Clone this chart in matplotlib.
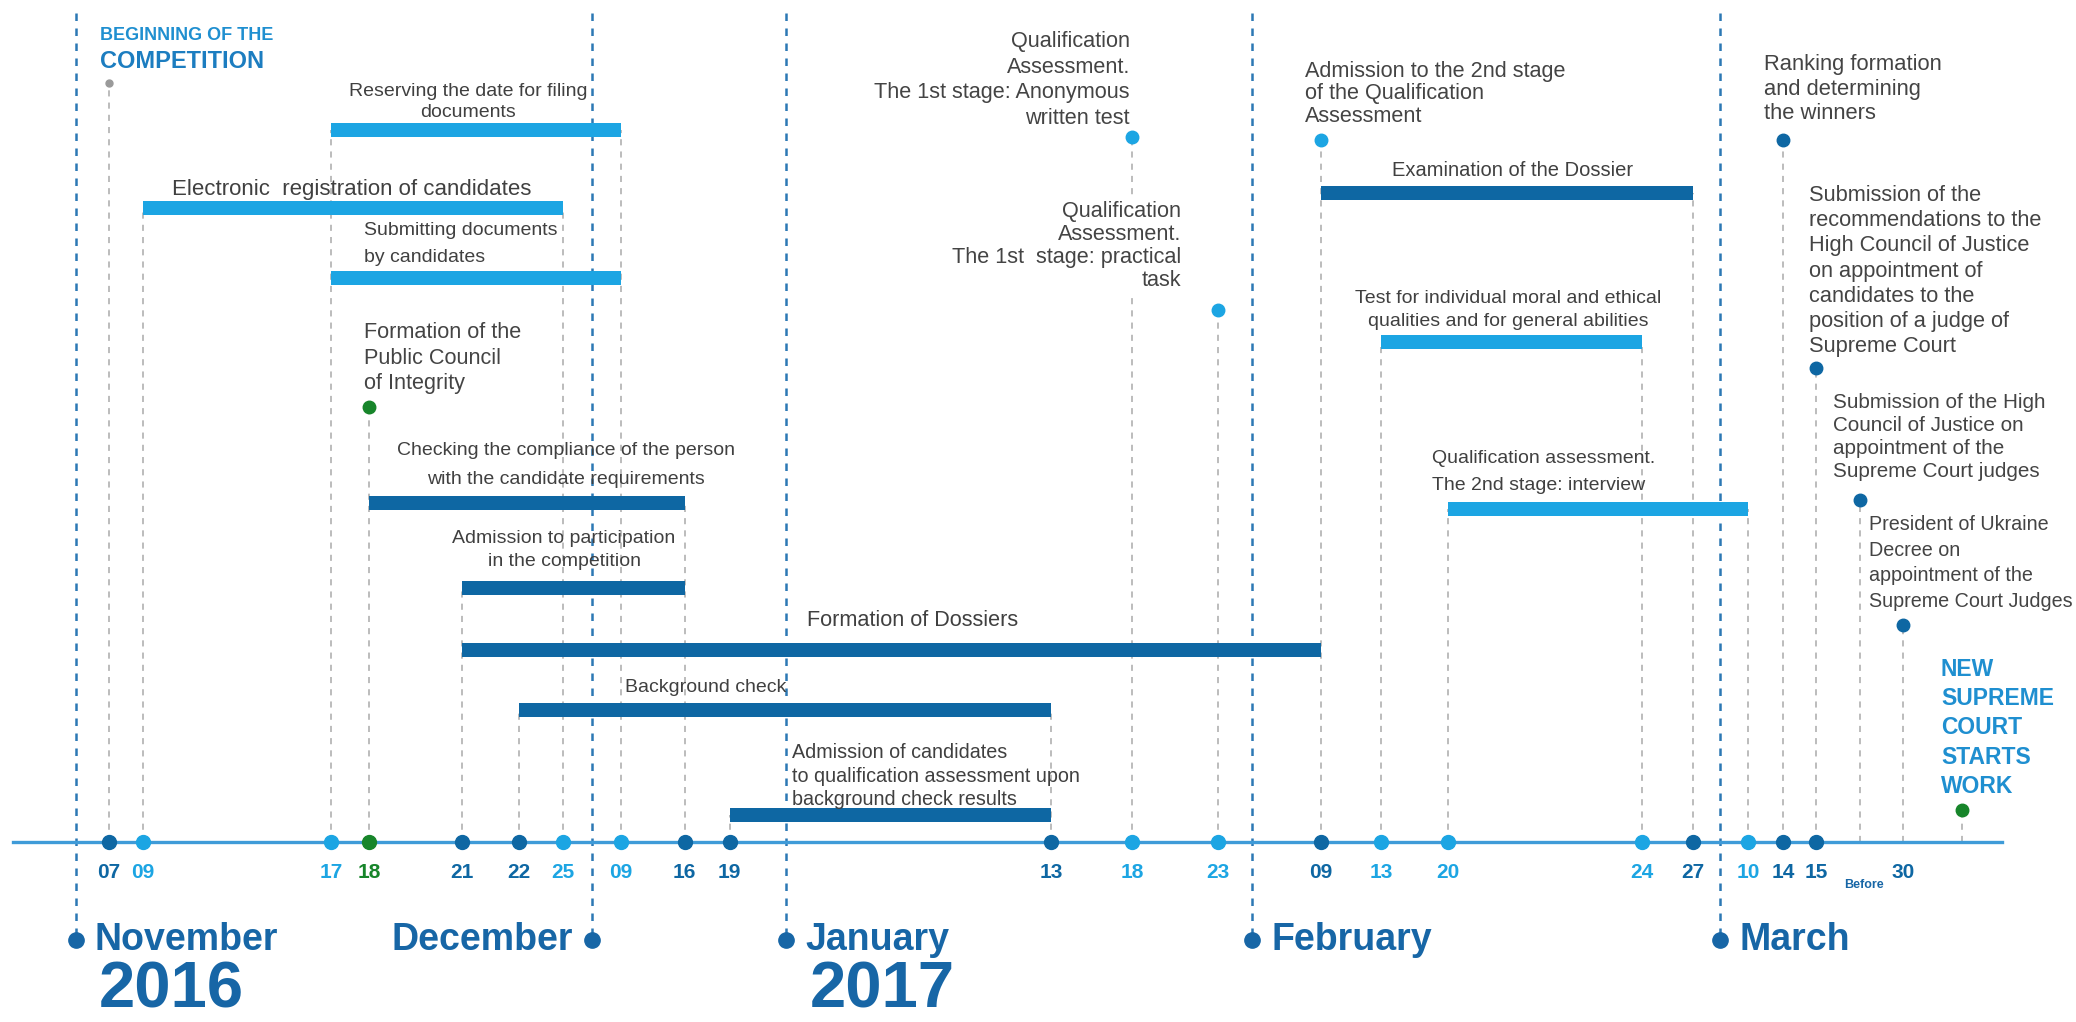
import numpy as np
import matplotlib.pyplot as plt
import matplotlib.transforms as mtransforms
from matplotlib import font_manager
from datetime import date

# ---------------- data ----------------
tick_dates = ['2016-11-07', '2016-11-09', '2016-11-17', '2016-11-18', '2016-11-21', '2016-11-22',
              '2016-11-25', '2016-12-09', '2016-12-16', '2016-12-19', '2017-01-13', '2017-01-18',
              '2017-01-23', '2017-02-09', '2017-02-13', '2017-02-20', '2017-02-24', '2017-02-27',
              '2017-03-10', '2017-03-14', '2017-03-15', '2017-03-30']
tick_labels = ['07', '09', '17', '18', '21', '22', '25', '09', '16', '19', '13', '18',
               '23', '09', '13', '20', '24', '27', '10', '14', '15', '30']
tick_tone = ['dark', 'light', 'light', 'green', 'dark', 'dark', 'light', 'light', 'dark', 'dark',
             'dark', 'light', 'light', 'dark', 'light', 'light', 'light', 'dark', 'light', 'dark',
             'dark', 'none']

month_names = ['November', 'December', 'January', 'February', 'March']
month_dates = ['2016-11-01', '2016-12-01', '2017-01-01', '2017-02-01', '2017-03-01']
years = ['2016', '2017']

bar_labels = ['Reserving the date for filing\ndocuments',
              'Electronic  registration of candidates',
              'Submitting documents\nby candidates',
              'Checking the compliance of the person\nwith the candidate requirements',
              'Admission to participation\nin the competition',
              'Formation of Dossiers',
              'Background check',
              'Admission of candidates\nto qualification assessment upon\nbackground check results',
              'Examination of the Dossier',
              'Test for individual moral and ethical\nqualities and for general abilities',
              'Qualification assessment.\nThe 2nd stage: interview']
bar_start = ['2016-11-17', '2016-11-09', '2016-11-17', '2016-11-18', '2016-11-21', '2016-11-21',
             '2016-11-22', '2016-12-19', '2017-02-09', '2017-02-13', '2017-02-20']
bar_end = ['2016-12-09', '2016-11-25', '2016-12-09', '2016-12-16', '2016-12-16', '2017-02-09',
           '2017-01-13', '2017-01-13', '2017-02-27', '2017-02-24', '2017-03-10']
bar_tone = ['light', 'light', 'light', 'dark', 'dark', 'dark', 'dark', 'dark', 'dark', 'light', 'light']

event_labels = ['BEGINNING OF THE\nCOMPETITION',
                'Formation of the\nPublic Council\nof Integrity',
                'Qualification\nAssessment.\nThe 1st stage: Anonymous\nwritten test',
                'Qualification\nAssessment.\nThe 1st  stage: practical\ntask',
                'Admission to the 2nd stage\nof the Qualification\nAssessment',
                'Ranking formation\nand determining\nthe winners',
                'Submission of the\nrecommendations to the\nHigh Council of Justice\non appointment of\n'
                'candidates to the\nposition of a judge of\nSupreme Court',
                'Submission of the High\nCouncil of Justice on\nappointment of the\nSupreme Court judges',
                'President of Ukraine\nDecree on\nappointment of the\nSupreme Court Judges',
                'NEW\nSUPREME\nCOURT\nSTARTS\nWORK']
event_dates = ['2016-11-07', '2016-11-18', '2017-01-18', '2017-01-23', '2017-02-09',
               '2017-03-14', '2017-03-15', '2017-03-22', '2017-03-30', '2017-04-09']
event_tone = ['grey', 'green', 'light', 'light', 'light', 'dark', 'dark', 'dark', 'dark', 'green']

# ---------------- layout ----------------
W, H = 2076, 1022
AXIS_Y = 842
colors = {'dark': '#0e67a3', 'light': '#1ca5e3', 'green': '#17852a', 'grey': '#9a9a9a', 'none': '#0e67a3'}
TEXT = '#444444'
BLUE = '#1f8fd0'
MONTH = '#1766a6'

# schematic (non-linear) timeline: day number -> pixel column
anchor_days = [-24, -11, 0, 6, 8, 16, 17, 20, 21, 24, 30, 38, 45, 48, 61, 73, 78, 83, 92, 100,
               104, 111, 115, 118, 120, 129, 133, 134, 141, 149, 159, 166, 180]
anchor_px = [0, 13, 75.5, 108.6, 143, 331, 369, 462, 519, 563, 592, 621, 684.5, 729.5, 786, 1051,
             1132, 1218, 1252, 1321, 1381, 1448, 1642, 1693, 1720, 1748, 1783, 1816, 1860, 1903,
             1962, 2002, 2076]

bar_rows = [130, 208, 278, 503, 588, 650, 710, 815, 193, 342, 509]
bar_text_xy = [(468, 102), (352, 190), (364, 244), (566, 465), (564, 550), (913, 620),
               (706, 688), (792, 776), (1513, 170), (1508, 310), (1432, 472)]
bar_text_ha = ['center', 'center', 'left', 'center', 'center', 'center',
               'center', 'left', 'center', 'center', 'left']
bar_text_size = [14, 16, 14, 14, 14, 15.6, 14, 14.2, 14.5, 14, 14]
bar_text_step = [23, 24, 28, 30, 25, 24, 24, 22.5, 24, 25, 29]

event_rows = [83, 407, 137, 310, 140, 140, 368, 500, 625, 810]
event_text_xy = [(100, 48), (364, 358), (1130, 80), (1181, 246), (1305, 94), (1764, 89),
                 (1809, 271), (1833, 437), (1869, 563), (1941, 728)]
event_text_ha = ['left', 'left', 'right', 'right', 'left', 'left', 'left', 'left', 'left', 'left']
event_text_size = [13, 15.6, 15.6, 15.6, 15.6, 15.8, 15.7, 14.9, 14.2, 16.5]
event_text_step = [27, 24.5, 24.6, 21.7, 21.5, 24, 24.2, 23.3, 24.3, 26.7]

installed = {f.name for f in font_manager.fontManager.ttflist}
NARROW = ['Liberation Sans Narrow', 'Liberation Sans'] if 'Liberation Sans Narrow' in installed \
    else ['Liberation Sans']
REGULAR = ['Liberation Sans', 'DejaVu Sans']


def day(s):
    return (date.fromisoformat(s) - date(2016, 11, 1)).days


def spacing(step, pt):
    # matplotlib baseline step ~ em * (0.21 + 0.716 * linespacing)
    em = pt * 100 / 72
    return (step / em - 0.21) / 0.716


fig = plt.figure(figsize=(W / 100, H / 100), dpi=100)
ax = fig.add_axes([0, 0, 1, 1])
ax.set_xscale('function', functions=(lambda d: np.interp(d, anchor_days, anchor_px),
                                      lambda p: np.interp(p, anchor_px, anchor_days)))
ax.set_xlim(anchor_days[0], anchor_days[-1])
ax.set_ylim(H, 0)
ax.axis('off')

# pixel transform for text (y down)
P = mtransforms.Affine2D().scale(1 / W, -1 / H).translate(0, 1) + fig.transFigure

# vertical dashed guides: from the axis up to the highest mark on that date
tops = {}
for s, e, r in zip(bar_start, bar_end, bar_rows):
    for d in (s, e):
        tops[d] = min(tops.get(d, AXIS_Y), r)
for d, r in zip(event_dates, event_rows):
    tops[d] = min(tops.get(d, AXIS_Y), r)
for d, top in tops.items():
    ax.plot([day(d), day(d)], [AXIS_Y, top], color='#a9a9a9', lw=1.1, ls=(0, (4, 4)), zorder=1)

# month guides
for name, d in zip(month_names, month_dates):
    ax.plot([day(d), day(d)], [13, 935], color='#2c78b4', lw=1.8, ls=(0, (3, 3)), zorder=1)
    ax.plot(day(d), 940, 'o', color=MONTH, ms=11, zorder=3)

# timeline axis
ax.plot([anchor_days[1], anchor_days[-2]], [AXIS_Y, AXIS_Y], color='#3f9bd8', lw=2.4, zorder=2)

# bars
for lab, s, e, tone, r in zip(bar_labels, bar_start, bar_end, bar_tone, bar_rows):
    ax.barh(r, day(e) - day(s), left=day(s), height=14, color=colors[tone], zorder=3)

# event dots
for d, tone, r in zip(event_dates, event_tone, event_rows):
    ms = 5 if tone == 'grey' else 9
    ax.plot(day(d), r, 'o', color=colors[tone], ms=ms, zorder=4)

# tick dots and labels
for d, lab, tone in zip(tick_dates, tick_labels, tick_tone):
    if tone != 'none':
        ax.plot(day(d), AXIS_Y, 'o', color=colors[tone], ms=10, zorder=4)
    ax.text(day(d), 872, lab, ha='center', va='center', color=colors[tone],
            fontsize=15, fontweight='bold', family=NARROW)
ax.text(day('2017-03-22') + 0.7, 885, 'Before', ha='center', va='center', color=MONTH,
        fontsize=9, fontweight='bold', family=NARROW)

# month and year labels
right_of = mtransforms.offset_copy(ax.transData, fig=fig, x=19, y=0, units='dots')
left_of = mtransforms.offset_copy(ax.transData, fig=fig, x=-19, y=0, units='dots')
for name, d in zip(month_names, month_dates):
    if name == 'December':
        ax.text(day(d), 940, name, transform=left_of, ha='right', va='center', color=MONTH,
                fontsize=27, fontweight='bold', family=NARROW)
    else:
        ax.text(day(d), 940, name, transform=right_of, ha='left', va='center', color=MONTH,
                fontsize=27, fontweight='bold', family=NARROW)
fig.text(99, 1020, years[0], transform=P, ha='left', va='bottom', color=MONTH,
         fontsize=47, fontweight='bold', family=NARROW)
fig.text(810, 1020, years[1], transform=P, ha='left', va='bottom', color=MONTH,
         fontsize=47, fontweight='bold', family=NARROW)

# bar labels
for lab, (x, y), ha, size, step in zip(bar_labels, bar_text_xy, bar_text_ha, bar_text_size, bar_text_step):
    fig.text(x, y, lab, transform=P, ha=ha, va='center', multialignment=ha, color='#404040',
             fontsize=size, family=NARROW, linespacing=spacing(step, size))

# event labels
for i, (lab, (x, y), ha) in enumerate(zip(event_labels, event_text_xy, event_text_ha)):
    size, step = event_text_size[i], event_text_step[i]
    if i == 0:
        top, bottom = lab.split('\n')
        fig.text(x, 35, top, transform=P, ha='left', va='center', color=BLUE,
                 fontsize=13, fontweight='bold', family=NARROW)
        fig.text(x, 62, bottom, transform=P, ha='left', va='center', color='#1c7dc0',
                 fontsize=17, fontweight='bold', family=NARROW)
    elif i == len(event_labels) - 1:
        fig.text(x, y, lab, transform=P, ha='left', va='center', color=BLUE,
                 fontsize=size, fontweight='bold', family=REGULAR, linespacing=spacing(step, size))
    else:
        box = dict(fc='white', ec='none', pad=1) if i == 3 else None
        fig.text(x, y, lab, transform=P, ha=ha, va='center', multialignment=ha, color=TEXT,
                 fontsize=size, family=REGULAR, linespacing=spacing(step, size), bbox=box,
                 zorder=2)

fig.savefig('out.png', dpi=100, facecolor='white')
